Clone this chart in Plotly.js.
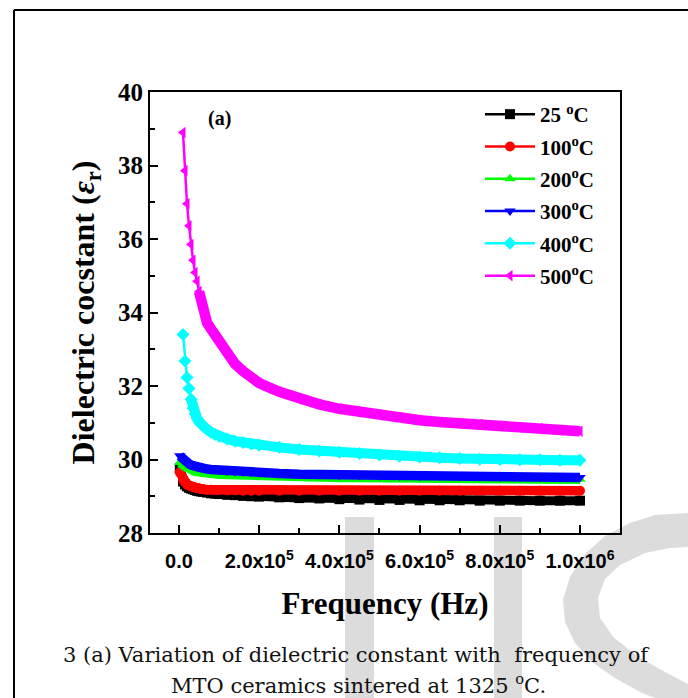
<!DOCTYPE html>
<html>
<head>
<meta charset="utf-8">
<script src="https://cdn.plot.ly/plotly-3.0.1.min.js"></script>
<style>html,body{margin:0;padding:0;background:#fff;}#chart{width:688px;height:698px;}</style>
</head>
<body>
<div id="chart"></div>
<script>
// ---- data ----
const freq = [2e3, 1e4, 1.5e4, 2e4, 2.5e4, 3e4, 3.5e4, 4e4, 4.5e4, 5e4, 5.5e4, 6e4, 7e4, 8e4, 9e4, 1e5,
  1.2e5, 1.4e5, 1.6e5, 1.8e5, 2e5, 2.5e5, 3e5, 3.5e5, 4e5, 4.5e5, 5e5, 5.5e5, 6e5, 6.5e5, 7e5, 7.5e5,
  8e5, 8.5e5, 9e5, 9.5e5, 1e6];

const eps25 = [29.76, 29.40, 29.32, 29.27, 29.23, 29.21, 29.19, 29.17, 29.15, 29.14, 29.13, 29.12, 29.10, 29.08, 29.07, 29.06,
  29.04, 29.03, 29.01, 29.00, 28.99, 28.97, 28.95, 28.94, 28.92, 28.91, 28.90, 28.90, 28.89, 28.89, 28.89, 28.88,
  28.88, 28.88, 28.88, 28.88, 28.88];
const eps100 = [29.65, 29.45, 29.38, 29.32, 29.29, 29.27, 29.25, 29.23, 29.22, 29.21, 29.20, 29.19, 29.18, 29.18, 29.17, 29.17,
  29.16, 29.16, 29.15, 29.15, 29.15, 29.15, 29.15, 29.15, 29.15, 29.15, 29.15, 29.15, 29.15, 29.15, 29.15, 29.15,
  29.15, 29.15, 29.15, 29.15, 29.15];
const eps200 = [29.92, 29.85, 29.80, 29.77, 29.74, 29.72, 29.70, 29.68, 29.67, 29.66, 29.65, 29.64, 29.63, 29.62, 29.61, 29.60,
  29.59, 29.58, 29.57, 29.56, 29.56, 29.54, 29.53, 29.52, 29.51, 29.51, 29.50, 29.50, 29.49, 29.49, 29.48, 29.48,
  29.47, 29.47, 29.47, 29.46, 29.46];
const eps300 = [30.10, 30.00, 29.95, 29.91, 29.88, 29.85, 29.83, 29.81, 29.79, 29.78, 29.77, 29.76, 29.74, 29.73, 29.72, 29.71,
  29.69, 29.67, 29.66, 29.65, 29.64, 29.62, 29.60, 29.59, 29.58, 29.57, 29.56, 29.56, 29.55, 29.55, 29.54, 29.54,
  29.53, 29.53, 29.52, 29.52, 29.51];
const eps400 = [null, 33.40, 32.68, 32.23, 31.93, 31.64, 31.40, 31.24, 31.12, 31.03, 30.96, 30.91, 30.82, 30.74, 30.68, 30.63,
  30.56, 30.50, 30.46, 30.42, 30.39, 30.33, 30.27, 30.23, 30.20, 30.16, 30.12, 30.09, 30.07, 30.05, 30.03, 30.01,
  30.00, 29.99, 29.99, 29.98, 29.98];
const eps500 = [null, 38.90, 37.86, 36.96, 36.36, 35.85, 35.42, 35.09, 34.85, 34.57, 34.31, 34.08, 33.72, 33.55, 33.38, 33.18,
  32.85, 32.60, 32.40, 32.22, 32.08, 31.84, 31.64, 31.50, 31.38, 31.29, 31.21, 31.14, 31.07, 31.02, 30.98, 30.95,
  30.91, 30.87, 30.84, 30.80, 30.77];

const seriesNames = ['25 <sup>o</sup>C', '100<sup>o</sup>C', '200<sup>o</sup>C', '300<sup>o</sup>C', '400<sup>o</sup>C', '500<sup>o</sup>C'];
const xTickVals = [0, 2e5, 4e5, 6e5, 8e5, 1e6];
const xTickText = ['0.0', '2.0x10<sup>5</sup>', '4.0x10<sup>5</sup>', '6.0x10<sup>5</sup>', '8.0x10<sup>5</sup>', '1.0x10<sup>6</sup>'];
const yTickVals = [28, 30, 32, 34, 36, 38, 40];

// ---- styling ----
const W = 688, H = 698, L = 150, R = 68, T = 92, B = 165;
const px2x = px => (px - L) / (W - L - R);
const py2y = py => (H - B - py) / (H - T - B);

const series = [eps25, eps100, eps200, eps300, eps400, eps500];
const colors = ['#000000', '#ff0000', '#00ff00', '#0000ff', '#00ffff', '#ff00ff'];
const symbols = ['square', 'circle', 'triangle-up', 'triangle-down', 'diamond', 'triangle-left'];
const bandStart = [0, 0, 0, 0, 5, 9]; // where overlapping markers form a solid band
const bandWidth = [9, 9.5, 9.5, 9.5, 10, 10.5];

const traces = [];
series.forEach((vals, i) => {
  traces.push({
    x: freq.slice(bandStart[i]), y: vals.slice(bandStart[i]),
    mode: 'lines', line: {color: colors[i], width: bandWidth[i]},
    showlegend: false, hoverinfo: 'skip', legendgroup: 'g' + i
  });
  traces.push({
    x: freq, y: vals, name: seriesNames[i], legendgroup: 'g' + i,
    mode: 'lines+markers',
    line: {color: colors[i], width: 2.5},
    marker: {symbol: symbols[i], color: colors[i], size: 10, line: {width: 0}}
  });
});

const serifBold = {family: 'Liberation Serif', color: '#000', weight: 'bold'};
const captionFont = {family: 'DejaVu Serif', size: 21, color: '#111'};

function poly(pts) {
  return 'M' + pts.map(p => px2x(p[0]).toFixed(5) + ',' + py2y(p[1]).toFixed(5)).join(' L') + ' Z';
}
const wmColor = '#dcdcdc';
const shapes = [
  // outer frame of the figure panel
  {type: 'line', xref: 'paper', yref: 'paper', x0: px2x(14), x1: px2x(14), y0: py2y(10), y1: py2y(698), line: {color: '#000', width: 2}},
  {type: 'line', xref: 'paper', yref: 'paper', x0: px2x(14), x1: px2x(688), y0: py2y(10), y1: py2y(10), line: {color: '#000', width: 2}},
  // watermark
  {type: 'path', layer: 'below', xref: 'paper', yref: 'paper', line: {width: 0}, fillcolor: wmColor,
    path: poly([[345, 517], [374, 517], [374, 698], [345, 698]])},
  {type: 'path', layer: 'below', xref: 'paper', yref: 'paper', line: {width: 0}, fillcolor: wmColor,
    path: poly([[494, 517], [522, 517], [522, 698], [494, 698]])},
  {type: 'path', layer: 'below', xref: 'paper', yref: 'paper', line: {width: 0}, fillcolor: wmColor,
    path: poly([[688, 513], [655, 515], [630, 523], [605, 536], [585, 554], [570, 577], [563, 600], [565, 622], [575, 643],
      [592, 662], [615, 678], [640, 692], [655, 698], [688, 698], [688, 684], [667, 673], [640, 658], [614, 638],
      [600, 618], [598, 598], [605, 579], [620, 565], [645, 553], [670, 548], [688, 547]])}
];

const annotations = [
  {xref: 'paper', yref: 'paper', x: px2x(219), y: py2y(118), text: '(a)', showarrow: false,
    font: Object.assign({}, serifBold, {size: 20}), xanchor: 'center', yanchor: 'middle'},
  {xref: 'paper', yref: 'paper', x: px2x(356), y: py2y(655), text: '3 (a) Variation of dielectric constant with  frequency of',
    showarrow: false, font: captionFont, xanchor: 'center', yanchor: 'middle'},
  {xref: 'paper', yref: 'paper', x: px2x(358), y: py2y(684), text: 'MTO ceramics sintered at 1325 <sup>o</sup>C.',
    showarrow: false, font: captionFont, xanchor: 'center', yanchor: 'middle'}
];

const layout = {
  width: W, height: H,
  margin: {l: L, r: R, t: T, b: B, pad: 0},
  paper_bgcolor: '#ffffff', plot_bgcolor: 'rgba(0,0,0,0)',
  showlegend: true,
  legend: {
    x: px2x(480), y: py2y(94), xanchor: 'left', yanchor: 'top',
    bgcolor: 'rgba(0,0,0,0)', borderwidth: 0,
    font: Object.assign({}, serifBold, {size: 21}),
    traceorder: 'grouped', tracegroupgap: 2, itemwidth: 50
  },
  xaxis: {
    range: [-72300, 1099800], showgrid: false, zeroline: false,
    showline: true, linecolor: '#000', linewidth: 2, mirror: true,
    ticks: 'inside', ticklen: 8, tickwidth: 2, tickcolor: '#000',
    tickmode: 'array', tickvals: xTickVals, ticktext: xTickText,
    minor: {tickmode: 'array', tickvals: [1e5, 3e5, 5e5, 7e5, 9e5], ticks: 'inside', ticklen: 5, tickwidth: 2, tickcolor: '#000'},
    tickfont: {family: 'Liberation Sans', size: 20, color: '#000', weight: 'bold'},
    ticklabelstandoff: 9,
    title: {text: 'Frequency (Hz)', font: Object.assign({}, serifBold, {size: 31}), standoff: 21},
    automargin: false
  },
  yaxis: {
    range: [28, 40], showgrid: false, zeroline: false,
    showline: true, linecolor: '#000', linewidth: 2, mirror: true,
    ticks: 'inside', ticklen: 8, tickwidth: 2, tickcolor: '#000',
    tickmode: 'array', tickvals: yTickVals,
    minor: {tickmode: 'array', tickvals: [29, 31, 33, 35, 37, 39], ticks: 'inside', ticklen: 5, tickwidth: 2, tickcolor: '#000'},
    tickfont: Object.assign({}, serifBold, {size: 25}),
    ticklabelstandoff: 0,
    title: {text: 'Dielectric cocstant (<i>ε</i><sub>r</sub>)', font: Object.assign({}, serifBold, {size: 32}), standoff: 14},
    automargin: false
  },
  shapes: shapes,
  annotations: annotations
};

Plotly.newPlot('chart', traces, layout, {displayModeBar: false, staticPlot: true});
</script>
</body>
</html>
